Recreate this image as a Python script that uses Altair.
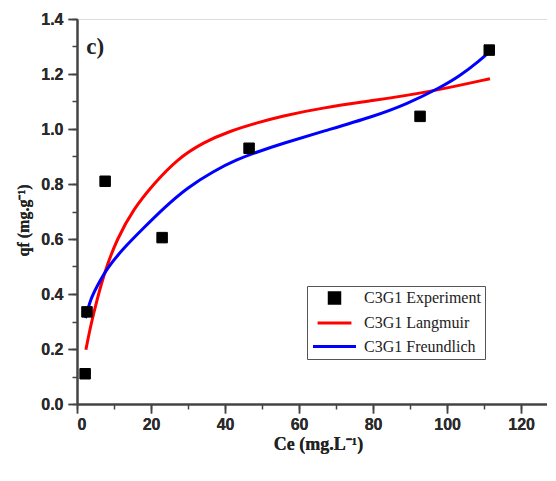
import altair as alt
import pandas as pd

names = ["C3G1 Experiment", "C3G1  Langmuir", "C3G1 Freundlich"]
colors = ["#000000", "#ff0000", "#0000ff"]

exp_x = [2.2, 2.7, 7.6, 23.0, 46.5, 92.7, 111.4]
exp_y = [0.11, 0.335, 0.81, 0.605, 0.93, 1.046, 1.287]

lang_x = [2.4, 3.6, 5.4, 7.7, 10.8, 15.3, 20.7, 27.0, 34.2, 41.4, 48.6, 55.0, 66.6, 80.0, 95.4, 111.6]
lang_y = [0.197, 0.28, 0.38, 0.49, 0.60, 0.71, 0.80, 0.89, 0.952, 0.993, 1.022, 1.046, 1.078, 1.103, 1.135, 1.183]

frd_x = [2.3, 3.6, 5.4, 8.1, 12.6, 18.0, 23.4, 29.7, 36.9, 43.2, 48.6, 55.0, 66.6, 80.0, 89.0, 98.1, 103.5, 108.9, 111.2]
frd_y = [0.312, 0.38, 0.428, 0.494, 0.567, 0.64, 0.712, 0.786, 0.847, 0.889, 0.916, 0.945, 0.992, 1.045, 1.09, 1.15, 1.193, 1.25, 1.278]

x_major = list(range(0, 140, 20))
x_minor = list(range(0, 130, 10))
y_major = [round(i * 0.2, 1) for i in range(0, 8)]
y_minor = [round(i * 0.1, 1) for i in range(0, 15)]

exp_df = pd.DataFrame({"x": exp_x, "y": exp_y, "series": names[0]})
fit_df = pd.concat([
    pd.DataFrame({"x": lang_x, "y": lang_y, "series": names[1], "o": range(len(lang_x))}),
    pd.DataFrame({"x": frd_x, "y": frd_y, "series": names[2], "o": range(len(frd_x))}),
])
label_df = pd.DataFrame({"x": [4.9], "y": [1.297], "t": ["c)"]})

axis_color = "#444444"
lab_font = "Liberation Sans"
serif = "Liberation Serif"

xscale = alt.Scale(domain=[0, 127], nice=False, zero=False)
yscale = alt.Scale(domain=[0, 1.4], nice=False)

xaxis = alt.Axis(
    values=x_major, orient="bottom",
    title="Ce (mg.L⁻¹)",
    titleFont=serif, titleFontSize=18, titleFontWeight="bold", titleColor="#222",
    titleX=241, titleY=31, titleAnchor="middle",
    labelFont=lab_font, labelFontSize=16, labelFontWeight="bold", labelColor="#2a2a2a",
    labelPadding=3, tickSize=9, grid=False, domainColor=axis_color, domainWidth=2,
    tickColor=axis_color, tickWidth=1.5,
)
yaxis = alt.Axis(
    values=y_major, format=".1f", orient="left",
    title="qf (mg.g⁻¹)",
    titleFont=serif, titleFontSize=16, titleFontWeight="bold", titleColor="#222",
    titleX=-46, titleY=201, titleAngle=-90, titleAnchor="middle",
    labelFont=lab_font, labelFontSize=16, labelFontWeight="bold", labelColor="#2a2a2a",
    labelPadding=5, tickSize=9, grid=False, domainColor=axis_color, domainWidth=2,
    tickColor=axis_color, tickWidth=1.5,
)
xaxis_minor = alt.Axis(values=x_minor, orient="bottom", labels=False, domain=False, title=None,
                       tickSize=5, grid=False, tickColor=axis_color, tickWidth=1.5)
yaxis_minor = alt.Axis(values=y_minor, orient="left", labels=False, domain=False, title=None,
                       tickSize=5, grid=False, tickColor=axis_color, tickWidth=1.5)

legend = alt.Legend(
    title=None, orient="none", legendX=230, legendY=267,
    labelFont=serif, labelFontSize=16, labelColor="#222",
    symbolStrokeWidth=3, strokeColor="#555555", fillColor="white",
    padding=4, rowPadding=3, labelOffset=17, symbolOffset=11,
)

color_scale = alt.Scale(domain=names, range=colors)
line_path = "M-2,0L2,0"

points = alt.Chart(exp_df).mark_point(filled=True, strokeWidth=1, opacity=1).encode(
    x=alt.X("x:Q", scale=xscale, axis=xaxis),
    y=alt.Y("y:Q", scale=yscale, axis=yaxis),
    fill=alt.Fill("series:N", scale=color_scale, legend=legend),
    stroke=alt.Stroke("series:N", scale=color_scale, legend=legend),
    shape=alt.Shape("series:N", scale=alt.Scale(domain=names, range=["square", line_path, line_path]), legend=legend),
    size=alt.Size("series:N", scale=alt.Scale(domain=names, range=[110, 462, 462]), legend=legend),
)

lines = alt.Chart(fit_df).mark_line(strokeWidth=3, interpolate="basis").encode(
    x=alt.X("x:Q", scale=xscale, axis=xaxis),
    y=alt.Y("y:Q", scale=yscale, axis=yaxis),
    stroke=alt.Stroke("series:N", scale=color_scale, legend=legend),
    detail="series:N",
    order="o:Q",
)

label = alt.Chart(label_df).mark_text(font=serif, fontSize=23, fontWeight="bold", color="#222").encode(
    x=alt.X("x:Q", scale=xscale, axis=xaxis_minor),
    y=alt.Y("y:Q", scale=yscale, axis=yaxis_minor),
    text="t:N",
)

chart = alt.layer(lines, points, label).resolve_axis(x="independent", y="independent").properties(
    width=470, height=385,
    autosize=alt.AutoSizeParams(type="none"),
    padding={"left": 69, "top": 11, "right": 0, "bottom": 60},
).configure_view(stroke=None).configure(background="white")

chart.save("out.html", embed_options={"renderer": "svg", "actions": False})
